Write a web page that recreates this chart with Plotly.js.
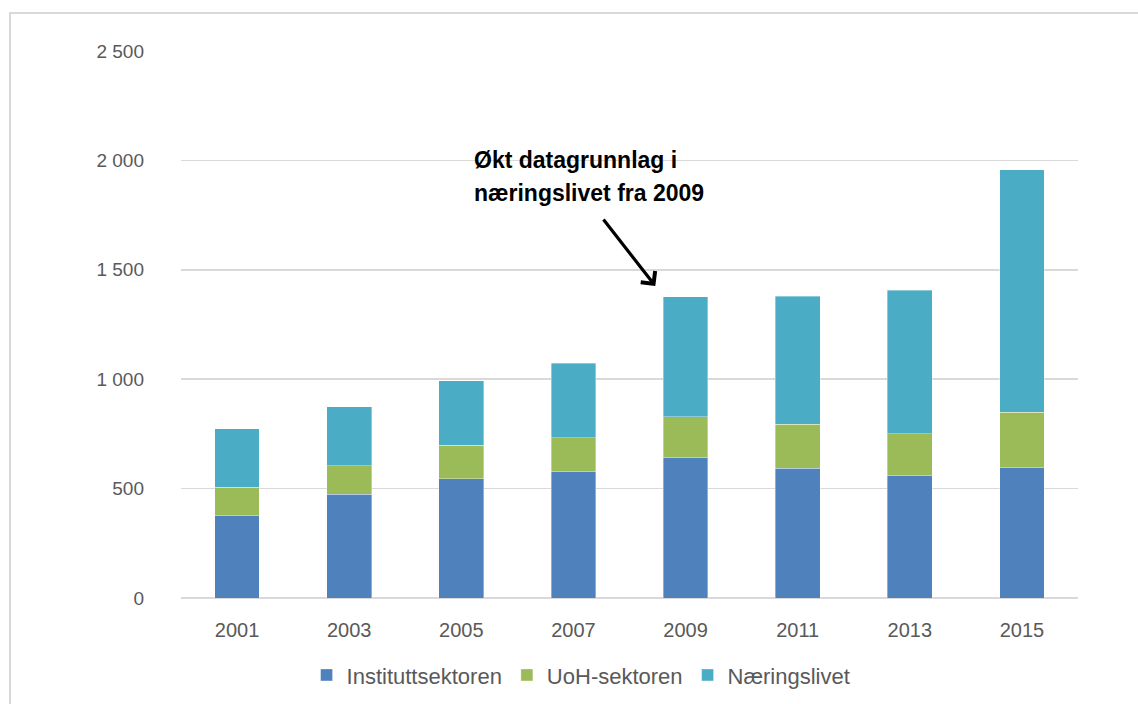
<!DOCTYPE html>
<html>
<head>
<meta charset="utf-8">
<script src="https://cdn.plot.ly/plotly-3.0.1.min.js"></script>
<style>
  html, body { margin:0; padding:0; background:#fff; }
  #chart { width:1138px; height:704px; position:absolute; left:0; top:0; }
  #frame { position:absolute; left:9px; top:12px; width:1200px; height:800px;
           border-left:2px solid #d9d9d9; border-top:2px solid #d9d9d9; pointer-events:none; }
</style>
</head>
<body>
<div id="chart"></div>
<div id="frame"></div>
<script>
const years = ["2001","2003","2005","2007","2009","2011","2013","2015"];
const instituttsektoren = [379, 475, 546, 576, 644, 594, 561, 597];
const uohSektoren = [127, 130, 152, 157, 185, 200, 190, 253];
const naeringslivet = [268, 268, 294, 341, 547, 585, 655, 1108];
const yTickVals = [0, 500, 1000, 1500, 2000, 2500];
const yTickText = ["0", "500", "1 000", "1 500", "2 000", "2 500"];
const annotationLines = ["Økt datagrunnlag i", "næringslivet fra 2009"];

const font = "Liberation Sans, Arial, sans-serif";
const lineStyle = {color:"rgba(255,255,255,0.6)", width:0.6};

const traces = [
  {type:"bar", name:"Instituttsektoren", x:years, y:instituttsektoren,
   marker:{color:"#4F81BD", line:lineStyle}},
  {type:"bar", name:"UoH-sektoren", x:years, y:uohSektoren,
   marker:{color:"#9BBB59", line:lineStyle}},
  {type:"bar", name:"Næringslivet", x:years, y:naeringslivet,
   marker:{color:"#4BACC6", line:lineStyle}}
];

const lineY = [0.8016, 0.7413];
const annotations = annotationLines.map((t, i) => ({
  xref:"paper", yref:"paper", x:0.3244, y:lineY[i], xanchor:"left", yanchor:"middle",
  text:t, showarrow:false, align:"left",
  font:{family:font, size:23, color:"#000", weight:"bold"}
}));
annotations.push({x:3.73, y:1426, xref:"x", yref:"y", text:"", showarrow:true,
  axref:"pixel", ayref:"pixel", ax:-53, ay:-68,
  arrowhead:4, arrowsize:1.1, arrowwidth:3.2, arrowcolor:"#000", standoff:0});

const layout = {
  width:1138, height:704,
  margin:{l:181, r:60, t:51, b:106, autoexpand:false},
  paper_bgcolor:"#fff", plot_bgcolor:"#fff",
  barmode:"stack", bargap:0.6,
  showlegend:true,
  font:{family:font, color:"#595959", size:20},
  xaxis:{type:"category", showgrid:false, zeroline:false, showline:false,
         ticks:"", ticklabelstandoff:18, tickfont:{size:20, color:"#595959"}},
  yaxis:{range:[0,2500], tickvals:yTickVals, ticktext:yTickText,
         showgrid:true, gridcolor:"#d9d9d9", gridwidth:1.5, zeroline:true,
         zerolinecolor:"#d9d9d9", zerolinewidth:1.5, showline:false, ticks:"",
         ticklabelstandoff:36, tickfont:{size:19, color:"#595959"}},
  legend:{orientation:"h", x:0.446, xanchor:"center", y:-0.141, yanchor:"middle",
          font:{size:22, color:"#595959"}, traceorder:"normal", itemclick:false,
          itemwidth:30},
  annotations:annotations
};

Plotly.newPlot("chart", traces, layout, {displayModeBar:false, staticPlot:true});
</script>
</body>
</html>
